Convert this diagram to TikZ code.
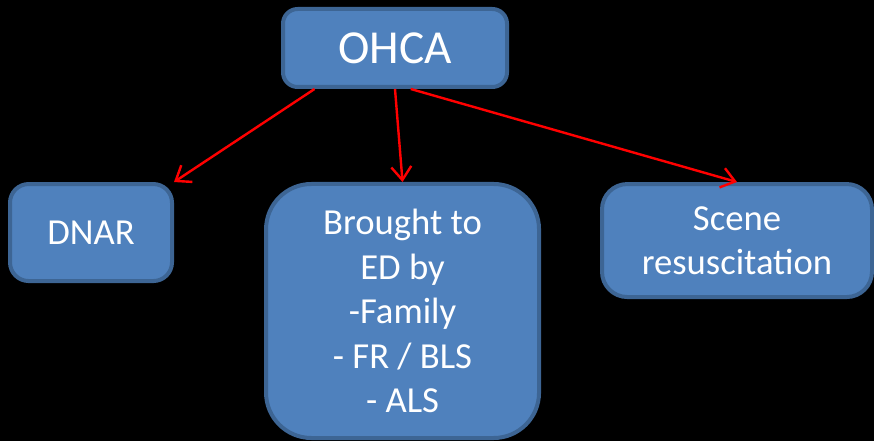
\documentclass[tikz,border=0pt]{standalone}
\usepackage{fontspec}
\setmainfont{Carlito}
\usetikzlibrary{positioning,arrows.meta}

\definecolor{boxfill}{HTML}{4F81BD}
\definecolor{boxline}{HTML}{3D6594}
\tikzset{
  topbox/.style={draw=boxline, fill=boxfill, line width=3pt, text=white, align=center},
  link/.style={draw=red, line width=1.8pt, -{Straight Barb[length=10pt,width=15pt]}}
}

\begin{document}
\begin{tikzpicture}[x=1pt,y=1pt]
\fill[black](0,0) rectangle (655.5,-330.75);
\useasboundingbox (0,0) rectangle (655.5,-330.75);
\node[topbox, rounded corners=11pt, minimum width=168pt, minimum height=58.5pt, font=\fontsize{35.5}{40}\selectfont](ohca) at (296.25,-36) {OHCA};
\node[topbox, rounded corners=14pt, minimum width=121.5pt, minimum height=72.75pt, font=\fontsize{27.5}{34}\selectfont](dnar) at (68.25,-174.4) {DNAR};
\node[topbox, rounded corners=34pt, minimum width=204.75pt, minimum height=190.5pt, font=\fontsize{27.5}{33.4}\selectfont](ed) at (301.9,-233.25) {Brought to\\ED by\\-Family\\- FR / BLS\\- ALS};
\node[topbox, rounded corners=19pt, minimum width=202.5pt, minimum height=84.75pt, font=\fontsize{27.5}{33}\selectfont](scene) at (552.75,-180.4) {Scene\\resuscitation};
\draw[link](ohca.207) -- (dnar.north east);
\draw[link](ohca.south) -- (ed.north);
\draw[link](ohca.291) -- (scene.north);
\end{tikzpicture}
\end{document}
